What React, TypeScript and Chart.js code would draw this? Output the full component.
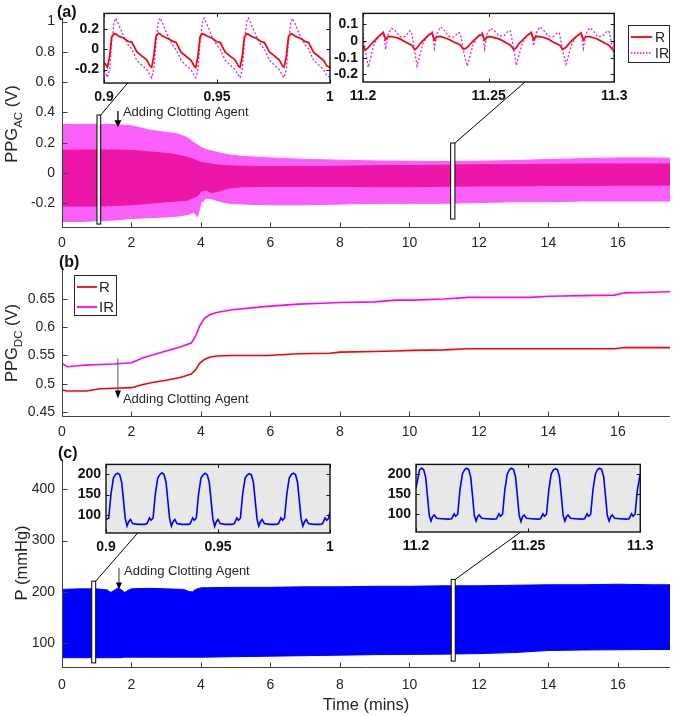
import React, { useEffect, useRef } from "react";
import { Chart, registerables } from "chart.js";

Chart.register(...registerables);

const FONT = "Arial, 'Liberation Sans', Helvetica, sans-serif";
const INK = "#262626";
const RED = "#ff0000";
const MAGENTA = "#ff00ff";
const BLUE = "#0000ff";
const IR_BAND = "rgb(250,95,250)";
const R_BAND = "rgb(238,22,168)";

// ---------------- data ----------------
const SERIES = ["R", "IR"];
const ANNOT = "Adding Clotting Agent";
const X_TICKS = [0, 2, 4, 6, 8, 10, 12, 14, 16];
const A_Y_TICKS = [-0.2, 0, 0.2, 0.4, 0.6, 0.8, 1];
const B_Y_TICKS = [0.45, 0.5, 0.55, 0.6, 0.65];
const C_Y_TICKS = [100, 200, 300, 400];
const A1_X_TICKS = [0.9, 0.95, 1];
const A1_Y_TICKS = [-0.2, 0, 0.2];
const A2_X_TICKS = [11.2, 11.25, 11.3];
const A2_Y_TICKS = [-0.2, -0.1, 0, 0.1];
const C1_X_TICKS = [0.9, 0.95, 1];
const C2_X_TICKS = [11.2, 11.25, 11.3];
const CI_Y_TICKS = [100, 150, 200];

// (a) PPG AC envelopes (time in mins, volts)
const A_T = [0, 0.5, 1, 1.5, 2, 2.5, 3, 3.3, 3.6, 3.8, 3.9, 4.0, 4.15, 4.3, 4.5, 4.8, 5.2, 6, 7, 8, 9, 10, 11, 12, 13, 14, 15, 16, 17, 17.5];
const A_IR_HI = [0.32, 0.322, 0.322, 0.32, 0.312, 0.285, 0.268, 0.26, 0.235, 0.2, 0.185, 0.17, 0.155, 0.145, 0.135, 0.12, 0.11, 0.1, 0.09, 0.085, 0.08, 0.078, 0.076, 0.078, 0.082, 0.09, 0.095, 0.1, 0.1, 0.098];
const A_IR_LO = [-0.32, -0.32, -0.315, -0.31, -0.3, -0.295, -0.29, -0.285, -0.275, -0.26, -0.29, -0.2, -0.165, -0.17, -0.185, -0.2, -0.205, -0.21, -0.21, -0.205, -0.2, -0.2, -0.2, -0.195, -0.19, -0.19, -0.185, -0.185, -0.185, -0.185];
const A_R_HI = [0.15, 0.152, 0.152, 0.152, 0.15, 0.14, 0.13, 0.12, 0.105, 0.09, 0.08, 0.07, 0.065, 0.06, 0.053, 0.048, 0.045, 0.043, 0.043, 0.045, 0.048, 0.05, 0.052, 0.055, 0.055, 0.058, 0.06, 0.06, 0.06, 0.06];
const A_R_LO = [-0.218, -0.218, -0.218, -0.215, -0.21, -0.2, -0.19, -0.185, -0.18, -0.16, -0.15, -0.12, -0.11, -0.13, -0.12, -0.1, -0.09, -0.088, -0.088, -0.088, -0.09, -0.09, -0.088, -0.085, -0.085, -0.083, -0.082, -0.08, -0.08, -0.08];

// (a) inset 1: 0.9 - 1.0 min
const A1_X = [0.9,
  0.9015, 0.9025, 0.9034, 0.9045, 0.9052, 0.9064, 0.9086, 0.9108, 0.9123, 0.9145, 0.9167, 0.9189, 0.9204,
  0.9211, 0.9221, 0.923, 0.9241, 0.9248, 0.926, 0.9282, 0.9304, 0.9319, 0.9341, 0.9363, 0.9385, 0.94,
  0.9406, 0.9416, 0.9425, 0.9436, 0.9443, 0.9455, 0.9477, 0.9499, 0.9514, 0.9536, 0.9558, 0.958, 0.9595,
  0.9602, 0.9612, 0.9621, 0.9632, 0.9639, 0.9651, 0.9673, 0.9695, 0.971, 0.9732, 0.9754, 0.9776, 0.9791,
  0.9797, 0.9807, 0.9816, 0.9827, 0.9834, 0.9846, 0.9868, 0.989, 0.9905, 0.9927, 0.9949, 0.9971, 0.9986,
  1.0];
const A1_R = [-0.13,
  -0.176, -0.07, 0.12, 0.153, 0.147, 0.128, 0.109, 0.075, 0.069, -0.025, -0.066, -0.104, -0.166,
  -0.178, -0.06, 0.125, 0.155, 0.148, 0.125, 0.105, 0.078, 0.065, -0.03, -0.07, -0.11, -0.17,
  -0.18, -0.065, 0.12, 0.152, 0.145, 0.128, 0.11, 0.072, 0.066, -0.028, -0.068, -0.106, -0.168,
  -0.178, -0.07, 0.118, 0.15, 0.145, 0.126, 0.107, 0.074, 0.064, -0.027, -0.066, -0.108, -0.17,
  -0.176, -0.068, 0.12, 0.152, 0.146, 0.126, 0.106, 0.076, 0.066, -0.03, -0.07, -0.11, -0.165,
  -0.18];
const A1_IR = [-0.21,
  -0.276, -0.2, 0.07, 0.27, 0.303, 0.245, 0.13, 0.04, 0.0, -0.11, -0.155, -0.2, -0.255,
  -0.28, -0.19, 0.075, 0.275, 0.305, 0.248, 0.132, 0.038, -0.004, -0.112, -0.158, -0.202, -0.26,
  -0.28, -0.2, 0.07, 0.27, 0.303, 0.244, 0.128, 0.04, 0.0, -0.108, -0.155, -0.2, -0.258,
  -0.282, -0.195, 0.072, 0.272, 0.304, 0.246, 0.13, 0.038, -0.002, -0.11, -0.156, -0.204, -0.262,
  -0.278, -0.2, 0.068, 0.27, 0.302, 0.245, 0.13, 0.04, 0.002, -0.108, -0.154, -0.2, -0.26,
  -0.275];

// (a) inset 2: 11.2 - 11.3 min
const A2_X = [11.2, 11.2008,
  11.2021, 11.2032, 11.2045, 11.2065, 11.2081, 11.209, 11.21, 11.2114, 11.2127, 11.2147, 11.2167, 11.2186, 11.2193, 11.2206,
  11.2215, 11.2226, 11.2239, 11.2259, 11.2275, 11.2284, 11.2294, 11.2308, 11.2321, 11.2341, 11.2361, 11.238, 11.2387, 11.24,
  11.2415, 11.2426, 11.2439, 11.2459, 11.2475, 11.2484, 11.2494, 11.2508, 11.2521, 11.2541, 11.2561, 11.258, 11.2587, 11.26,
  11.261, 11.2621, 11.2634, 11.2654, 11.267, 11.2679, 11.2689, 11.2703, 11.2716, 11.2736, 11.2756, 11.2775, 11.2782, 11.2795,
  11.2808, 11.2819, 11.2832, 11.2852, 11.2868, 11.2877, 11.2887, 11.2901, 11.2914, 11.2934, 11.2954, 11.2973, 11.298, 11.2993,
  11.3];
const A2_R = [-0.03, -0.054,
  -0.04, -0.02, 0.0, 0.03, 0.05, 0.008, 0.026, 0.026, 0.022, 0.012, -0.005, -0.02, -0.025, -0.052,
  -0.042, -0.018, 0.002, 0.032, 0.047, 0.006, 0.025, 0.027, 0.02, 0.01, -0.006, -0.018, -0.024, -0.05,
  -0.04, -0.02, 0.0, 0.028, 0.04, 0.005, 0.024, 0.025, 0.02, 0.012, -0.004, -0.02, -0.026, -0.052,
  -0.04, -0.016, 0.004, 0.033, 0.05, 0.008, 0.027, 0.026, 0.022, 0.012, -0.006, -0.02, -0.025, -0.05,
  -0.038, -0.018, 0.003, 0.03, 0.047, 0.007, 0.025, 0.026, 0.02, 0.01, -0.006, -0.022, -0.028, -0.052,
  -0.056];
const A2_IR = [0.045, -0.05,
  -0.157, -0.09, -0.016, 0.032, 0.05, -0.05, 0.04, 0.075, 0.065, 0.025, 0.025, 0.06, 0.055, -0.06,
  -0.15, -0.085, -0.015, 0.035, 0.055, -0.045, 0.045, 0.083, 0.07, 0.028, 0.022, 0.05, 0.045, -0.06,
  -0.15, -0.088, -0.018, 0.03, 0.05, -0.048, 0.04, 0.075, 0.065, 0.03, 0.03, 0.062, 0.058, -0.05,
  -0.145, -0.085, -0.012, 0.035, 0.052, -0.03, 0.045, 0.083, 0.07, 0.03, 0.025, 0.05, 0.045, -0.06,
  -0.14, -0.08, -0.015, 0.03, 0.05, -0.045, 0.04, 0.078, 0.065, 0.025, 0.03, 0.06, 0.055, -0.04,
  -0.1];

// (b) PPG DC
const DC_T = [0, 0.15, 0.3, 0.7, 1.1, 1.5, 2.0, 2.3, 2.6, 3.0, 3.4, 3.72, 3.85, 3.96, 4.1, 4.25, 4.45, 4.9, 5.9, 6.8, 7.7, 8.0, 9.0, 9.6, 10.1, 11.0, 11.7, 12.5, 13.5, 14.0, 15.0, 15.9, 16.2, 17.0, 17.5];
const DC_IR = [0.536, 0.53, 0.531, 0.533, 0.534, 0.535, 0.537, 0.545, 0.551, 0.558, 0.565, 0.572, 0.585, 0.602, 0.616, 0.622, 0.626, 0.631, 0.637, 0.641, 0.643, 0.644, 0.645, 0.648, 0.648, 0.65, 0.653, 0.653, 0.653, 0.655, 0.656, 0.657, 0.661, 0.662, 0.663];
const DC_R = [0.489, 0.487, 0.487, 0.487, 0.491, 0.492, 0.493, 0.498, 0.502, 0.506, 0.511, 0.517, 0.525, 0.536, 0.543, 0.547, 0.549, 0.55, 0.55, 0.553, 0.554, 0.556, 0.557, 0.558, 0.559, 0.56, 0.562, 0.562, 0.562, 0.562, 0.562, 0.562, 0.564, 0.564, 0.564];

// (c) pressure envelope (mmHg)
const P_T = [0, 0.5, 1.0, 1.3, 1.4, 1.5, 1.6, 1.7, 1.8, 1.9, 2.0, 2.5, 3.0, 3.5, 3.65, 3.75, 3.85, 4.0, 5, 6, 7, 8, 9, 10, 11, 12, 13, 14, 15, 16, 17, 17.5];
const P_HI = [205, 206, 206, 204, 199, 203, 207, 205, 199, 203, 206, 207, 206, 205, 201, 200, 205, 208, 209, 209, 210, 210, 211, 211, 212, 212, 213, 214, 214, 215, 214, 214];
const P_LO = [72, 72, 72, 72, 72, 72, 72, 72, 73, 73, 73, 73, 73, 73, 73, 73, 73, 73, 74, 75, 76, 77, 78, 78.5, 79, 80, 82, 86, 87, 87.5, 88, 88];

// (c) inset 1
const C1_X = [0.9, 0.9012, 0.9022, 0.9033, 0.9043, 0.9052, 0.9061, 0.907, 0.9079, 0.9086, 0.9094, 0.9101, 0.9109, 0.9119, 0.9141, 0.9171,
  0.9183, 0.9194, 0.9201, 0.921, 0.922, 0.9231, 0.9241, 0.925, 0.9259, 0.9268, 0.9277, 0.9284, 0.9292, 0.9299, 0.9307, 0.9317, 0.9339, 0.9369,
  0.9376, 0.9387, 0.9394, 0.9403, 0.9413, 0.9424, 0.9434, 0.9443, 0.9452, 0.9461, 0.947, 0.9477, 0.9485, 0.9492, 0.95, 0.951, 0.9532, 0.9562,
  0.9573, 0.9584, 0.9591, 0.96, 0.961, 0.9621, 0.9631, 0.964, 0.9649, 0.9658, 0.9667, 0.9674, 0.9682, 0.9689, 0.9697, 0.9707, 0.9729, 0.9759,
  0.977, 0.9781, 0.9788, 0.9797, 0.9807, 0.9818, 0.9828, 0.9837, 0.9846, 0.9855, 0.9864, 0.9871, 0.9879, 0.9886, 0.9894, 0.9904, 0.9926, 0.9956,
  0.9967, 0.9978, 0.9985, 0.9994, 1.0];
const C1_P = [89, 92, 150, 190, 199, 202, 199, 180, 130, 91, 73, 83, 89, 79, 77, 77,
  79, 93, 87, 92, 150, 190, 199, 203, 199, 180, 130, 91, 73, 83, 89, 79, 77, 77,
  79, 93, 87, 92, 150, 190, 198, 202, 198, 180, 130, 91, 72, 83, 89, 79, 77, 77,
  79, 93, 87, 92, 150, 190, 198, 201, 198, 180, 130, 91, 73, 83, 89, 79, 77, 77,
  79, 93, 87, 92, 150, 190, 199, 202, 199, 180, 130, 91, 73, 83, 89, 79, 77, 77,
  79, 93, 87, 92, 108];

// (c) inset 2
const C2_X = [11.2, 11.2016, 11.2025, 11.2034, 11.2043, 11.2052, 11.2059, 11.2067, 11.2074, 11.2081, 11.2092, 11.2114, 11.2144,
  11.2159, 11.217, 11.2177, 11.2186, 11.2196, 11.2207, 11.2217, 11.2226, 11.2235, 11.2244, 11.2253, 11.226, 11.2268, 11.2275, 11.2282, 11.2293, 11.2315, 11.2345,
  11.2359, 11.237, 11.2377, 11.2386, 11.2396, 11.2407, 11.2417, 11.2426, 11.2435, 11.2444, 11.2453, 11.246, 11.2468, 11.2475, 11.2482, 11.2493, 11.2515, 11.2545,
  11.2555, 11.2566, 11.2573, 11.2582, 11.2592, 11.2603, 11.2613, 11.2622, 11.2631, 11.264, 11.2649, 11.2656, 11.2664, 11.2671, 11.2678, 11.2689, 11.2711, 11.2741,
  11.2752, 11.2763, 11.277, 11.2779, 11.2789, 11.28, 11.281, 11.2819, 11.2828, 11.2837, 11.2846, 11.2853, 11.2861, 11.2868, 11.2875, 11.2886, 11.2908, 11.2938,
  11.295, 11.2961, 11.2968, 11.2977, 11.2987, 11.3];
const C2_P = [165, 210, 214, 211, 192, 140, 97, 83, 94, 98, 90, 89, 88,
  89, 101, 95, 100, 160, 200, 211, 214, 211, 192, 140, 97, 83, 94, 98, 90, 89, 88,
  89, 101, 95, 100, 160, 200, 211, 214, 211, 192, 140, 97, 82, 94, 98, 90, 89, 88,
  89, 101, 95, 100, 160, 200, 210, 213, 210, 192, 140, 97, 83, 94, 98, 90, 89, 88,
  89, 101, 95, 100, 160, 200, 211, 214, 211, 192, 140, 97, 83, 94, 98, 90, 89, 88,
  89, 101, 95, 100, 160, 200];

// ---------------- layout (page px) ----------------
type Box = { l: number; t: number; r: number; b: number };
const W = 675;
const A_TOP = 0, A_H = 252;
const B_TOP = 252, B_H = 193;
const C_TOP = 445, C_H = 271;
const EXT = { l: 50, r: 18, t: 10, b: 26 };
const IN_A1: Box = { l: 104, t: 10, r: 330, b: 83 };
const IN_A2: Box = { l: 363, t: 10, r: 615, b: 82 };
const IN_C1: Box = { l: 106, t: 461, r: 330, b: 533 };
const IN_C2: Box = { l: 416, t: 461, r: 641, b: 532 };

const pts = (xs: number[], ys: number[]) => xs.map((x, i) => ({ x, y: ys[i] }));

function tickScale(min: number, max: number, ticks: number[], pad: number, size: number, bold: boolean, color: string, fitKey: "width" | "height", fitVal: number) {
  return {
    type: "linear",
    min,
    max,
    grid: { display: false, drawTicks: false },
    border: { display: false },
    afterBuildTicks: (s: any) => {
      s.ticks = ticks.map((v) => ({ value: v }));
    },
    afterFit: (s: any) => {
      s[fitKey] = fitVal;
    },
    ticks: {
      padding: pad,
      color,
      autoSkip: false,
      maxRotation: 0,
      font: { family: FONT, size, weight: bold ? "bold" : "normal" },
      callback: (v: any) => String(v),
    },
  };
}

function drawYTitle(ctx: any, x: number, yc: number, main: string, sub: string, tail: string) {
  ctx.save();
  ctx.translate(x, yc);
  ctx.rotate(-Math.PI / 2);
  ctx.fillStyle = INK;
  ctx.textBaseline = "alphabetic";
  ctx.textAlign = "left";
  const fMain = `16.5px ${FONT}`;
  const fSub = `11.5px ${FONT}`;
  ctx.font = fMain;
  const w1 = ctx.measureText(main).width;
  const w3 = ctx.measureText(tail).width;
  ctx.font = fSub;
  const w2 = sub ? ctx.measureText(sub).width : 0;
  let s = -(w1 + w2 + w3) / 2;
  ctx.font = fMain;
  ctx.fillText(main, s, 0);
  s += w1;
  if (sub) {
    ctx.font = fSub;
    ctx.fillText(sub, s, 4.5);
    s += w2;
  }
  ctx.font = fMain;
  ctx.fillText(tail, s, 0);
  ctx.restore();
}

function mainDecor(spec: any) {
  return {
    id: "mainDecor",
    afterDraw(chart: any) {
      const { ctx, chartArea: a, scales } = chart;
      const sx = scales.x, sy = scales.y;
      const T = spec.top;
      ctx.save();
      // zoom rectangles + connectors
      for (const r of spec.rects || []) {
        const x0 = sx.getPixelForValue(r.x0), x1 = sx.getPixelForValue(r.x1);
        const y0 = sy.getPixelForValue(r.y0), y1 = sy.getPixelForValue(r.y1);
        ctx.fillStyle = "#fff";
        ctx.fillRect(x0, y0, x1 - x0, y1 - y0);
        ctx.strokeStyle = "#000";
        ctx.lineWidth = 1;
        ctx.strokeRect(x0, y0, x1 - x0, y1 - y0);
        ctx.beginPath();
        ctx.moveTo(x1, y0);
        ctx.lineTo(r.to[0], r.to[1] - T);
        ctx.stroke();
      }
      // axes
      const L = Math.round(a.left) + 0.5;
      const B = Math.round(a.bottom) - 0.5;
      ctx.strokeStyle = "#404040";
      ctx.lineWidth = 1;
      ctx.beginPath();
      ctx.moveTo(L, a.top);
      ctx.lineTo(L, B);
      ctx.lineTo(a.right, B);
      for (const t of X_TICKS) {
        const px = Math.round(sx.getPixelForValue(t)) + 0.5;
        ctx.moveTo(px, B);
        ctx.lineTo(px, B - 5);
      }
      for (const t of spec.yTicks) {
        const py = Math.round(sy.getPixelForValue(t)) + 0.5;
        ctx.moveTo(L, py);
        ctx.lineTo(L + 5, py);
      }
      ctx.stroke();
      // y title
      drawYTitle(ctx, spec.title.x, spec.title.y - T, spec.title.main, spec.title.sub, spec.title.tail);
      // panel label
      ctx.fillStyle = "#111";
      ctx.font = `bold 16px ${FONT}`;
      ctx.textAlign = "left";
      ctx.textBaseline = "middle";
      ctx.fillText(spec.panel.text, spec.panel.x, spec.panel.y - T);
      // legend
      if (spec.legend) {
        const Lg = spec.legend;
        const bx = Lg.box;
        ctx.fillStyle = "#fff";
        ctx.fillRect(bx.l, bx.t - T, bx.r - bx.l, bx.b - bx.t);
        ctx.strokeStyle = INK;
        ctx.lineWidth = 1;
        ctx.strokeRect(bx.l + 0.5, bx.t - T + 0.5, bx.r - bx.l - 1, bx.b - bx.t - 1);
        for (const row of Lg.rows) {
          ctx.strokeStyle = row.color;
          ctx.lineWidth = row.lw;
          ctx.setLineDash(row.dash);
          ctx.beginPath();
          ctx.moveTo(Lg.x1, row.y - T);
          ctx.lineTo(Lg.x2, row.y - T);
          ctx.stroke();
          ctx.setLineDash([]);
          ctx.fillStyle = INK;
          ctx.font = `${Lg.size}px ${FONT}`;
          ctx.textAlign = "left";
          ctx.textBaseline = "middle";
          ctx.fillText(row.label, Lg.tx, row.y - T + 1);
        }
      }
      // arrow + annotation
      if (spec.arrow) {
        const ar = spec.arrow;
        const px = sx.getPixelForValue(ar.x);
        const p1 = sy.getPixelForValue(ar.y1);
        const p2 = sy.getPixelForValue(ar.y2);
        ctx.strokeStyle = ar.shaft;
        ctx.lineWidth = ar.lw;
        ctx.beginPath();
        ctx.moveTo(px, p1);
        ctx.lineTo(px, p2 - 5);
        ctx.stroke();
        ctx.fillStyle = "#000";
        ctx.beginPath();
        ctx.moveTo(px - ar.hw, p2 - ar.hh);
        ctx.lineTo(px + ar.hw, p2 - ar.hh);
        ctx.lineTo(px, p2);
        ctx.closePath();
        ctx.fill();
        ctx.fillStyle = INK;
        ctx.font = `13px ${FONT}`;
        ctx.textAlign = "left";
        ctx.textBaseline = "middle";
        ctx.fillText(ANNOT, px + 5, ar.ty - T);
      }
      if (spec.xTitle) {
        ctx.fillStyle = INK;
        ctx.font = `16.5px ${FONT}`;
        ctx.textAlign = "center";
        ctx.textBaseline = "middle";
        ctx.fillText(spec.xTitle.text, (a.left + a.right) / 2, spec.xTitle.y - T);
      }
      ctx.restore();
    },
  };
}

function mainConfig(datasets: any[], yMin: number, yMax: number, yTicks: number[], padTop: number, xAxisH: number, xPad: number, spec: any) {
  return {
    type: "line",
    data: { datasets },
    options: {
      animation: false,
      responsive: false,
      devicePixelRatio: 1,
      layout: { padding: { top: padTop, right: 5, left: 0, bottom: 0 } },
      plugins: { legend: { display: false }, tooltip: { enabled: false } },
      elements: { point: { radius: 0 }, line: { tension: 0 } },
      scales: {
        x: tickScale(0, 17.5, X_TICKS, xPad, 14, false, INK, "height", xAxisH),
        y: tickScale(yMin, yMax, yTicks, 7, 14, false, INK, "width", 62),
      },
    },
    plugins: [mainDecor(spec)],
  };
}

function insetPlugin(bg: string, xTicks: number[], yTicks: number[]) {
  return {
    id: "insetFrame",
    beforeDraw(chart: any) {
      const { ctx, chartArea: a } = chart;
      ctx.save();
      ctx.fillStyle = bg;
      ctx.fillRect(a.left, a.top, a.right - a.left, a.bottom - a.top);
      ctx.restore();
    },
    afterDraw(chart: any) {
      const { ctx, chartArea: a, scales } = chart;
      ctx.save();
      ctx.strokeStyle = "#111";
      ctx.lineWidth = 1.4;
      ctx.strokeRect(a.left, a.top, a.right - a.left, a.bottom - a.top);
      ctx.lineWidth = 1;
      ctx.beginPath();
      for (const t of xTicks) {
        const px = Math.round(scales.x.getPixelForValue(t)) + 0.5;
        ctx.moveTo(px, a.bottom);
        ctx.lineTo(px, a.bottom - 3.5);
        ctx.moveTo(px, a.top);
        ctx.lineTo(px, a.top + 3.5);
      }
      for (const t of yTicks) {
        const py = Math.round(scales.y.getPixelForValue(t)) + 0.5;
        ctx.moveTo(a.left, py);
        ctx.lineTo(a.left + 3.5, py);
        ctx.moveTo(a.right, py);
        ctx.lineTo(a.right - 3.5, py);
      }
      ctx.stroke();
      ctx.restore();
    },
  };
}

function insetConfig(datasets: any[], xMin: number, xMax: number, yMin: number, yMax: number, xTicks: number[], yTicks: number[], bg: string) {
  return {
    type: "line",
    data: { datasets },
    options: {
      animation: false,
      responsive: false,
      devicePixelRatio: 1,
      layout: { padding: { top: EXT.t, right: EXT.r, left: 0, bottom: 0 } },
      plugins: { legend: { display: false }, tooltip: { enabled: false } },
      elements: { point: { radius: 0 }, line: { tension: 0 } },
      scales: {
        x: tickScale(xMin, xMax, xTicks, 5.5, 14, true, "#111", "height", EXT.b),
        y: tickScale(yMin, yMax, yTicks, 5, 14, true, "#111", "width", EXT.l),
      },
    },
    plugins: [insetPlugin(bg, xTicks, yTicks)],
  };
}

const band = (xs: number[], ys: number[], color: string, fill: any) => ({
  data: pts(xs, ys),
  borderColor: color,
  backgroundColor: color,
  borderWidth: 1,
  pointRadius: 0,
  fill,
});
const line = (xs: number[], ys: number[], color: string, width: number, dash: number[] = []) => ({
  data: pts(xs, ys),
  borderColor: color,
  backgroundColor: color,
  borderWidth: width,
  borderDash: dash,
  pointRadius: 0,
  fill: false,
});

function insetStyle(b: Box): any {
  return {
    position: "absolute",
    left: b.l - EXT.l,
    top: b.t - EXT.t,
    width: b.r - b.l + EXT.l + EXT.r,
    height: b.b - b.t + EXT.t + EXT.b,
  };
}

export default function App() {
  const refA = useRef<HTMLCanvasElement>(null);
  const refB = useRef<HTMLCanvasElement>(null);
  const refC = useRef<HTMLCanvasElement>(null);
  const refA1 = useRef<HTMLCanvasElement>(null);
  const refA2 = useRef<HTMLCanvasElement>(null);
  const refC1 = useRef<HTMLCanvasElement>(null);
  const refC2 = useRef<HTMLCanvasElement>(null);

  useEffect(() => {
    const charts: Chart[] = [];
    const mk = (ref: any, cfg: any) => {
      if (ref.current) charts.push(new Chart(ref.current, cfg));
    };

    mk(
      refA,
      mainConfig(
        [band(A_T, A_R_LO, R_BAND, false), band(A_T, A_R_HI, R_BAND, "-1"), band(A_T, A_IR_LO, IR_BAND, false), band(A_T, A_IR_HI, IR_BAND, "-1")],
        -0.363, 1.024, A_Y_TICKS, 18, A_H - 228, 6.6,
        {
          top: A_TOP,
          yTicks: A_Y_TICKS,
          title: { main: "PPG", sub: "AC", tail: " (V)", x: 17, y: 124 },
          panel: { text: "(a)", x: 57, y: 13 },
          legend: {
            box: { l: 628, t: 25, r: 670, b: 63 },
            x1: 631, x2: 652, tx: 655, size: 14,
            rows: [
              { label: SERIES[0], color: RED, dash: [], lw: 1.8, y: 37 },
              { label: SERIES[1], color: MAGENTA, dash: [1.5, 1.5], lw: 1.3, y: 53 },
            ],
          },
          arrow: { x: 1.61, y1: 0.41, y2: 0.303, shaft: "#000", lw: 1.3, hw: 3.5, hh: 7, ty: 112.7 },
          rects: [
            { x0: 1.007, x1: 1.114, y0: 0.383, y1: -0.337, to: [127.7, 83] },
            { x0: 11.186, x1: 11.309, y0: 0.198, y1: -0.304, to: [525, 82] },
          ],
        }
      )
    );

    mk(
      refB,
      mainConfig(
        [line(DC_T, DC_R, RED, 1.6), line(DC_T, DC_IR, MAGENTA, 1.6)],
        0.441, 0.705, B_Y_TICKS, 16, B_TOP + B_H - 417, 6.6,
        {
          top: B_TOP,
          yTicks: B_Y_TICKS,
          title: { main: "PPG", sub: "DC", tail: " (V)", x: 17, y: 343 },
          panel: { text: "(b)", x: 59, y: 262.5 },
          legend: {
            box: { l: 74, t: 275, r: 117, b: 316 },
            x1: 77, x2: 97, tx: 99, size: 15,
            rows: [
              { label: SERIES[0], color: RED, dash: [], lw: 1.8, y: 287 },
              { label: SERIES[1], color: MAGENTA, dash: [], lw: 1.8, y: 307 },
            ],
          },
          arrow: { x: 1.61, y1: 0.545, y2: 0.474, shaft: "#555", lw: 1, hw: 3, hh: 8, ty: 399.3 },
        }
      )
    );

    mk(
      refC,
      mainConfig(
        [band(P_T, P_LO, BLUE, false), band(P_T, P_HI, BLUE, "-1")],
        52, 456, C_Y_TICKS, 13, C_TOP + C_H - 668, 8.3,
        {
          top: C_TOP,
          yTicks: C_Y_TICKS,
          title: { main: "P", sub: "", tail: " (mmHg)", x: 27, y: 563 },
          panel: { text: "(c)", x: 58, y: 453.3 },
          arrow: { x: 1.64, y1: 247, y2: 205, shaft: "#333", lw: 1, hw: 3, hh: 7, ty: 571 },
          rects: [
            { x0: 0.855, x1: 0.97, y0: 221, y1: 62, to: [137.7, 533] },
            { x0: 11.203, x1: 11.318, y0: 224.4, y1: 65.4, to: [520.7, 532] },
          ],
          xTitle: { text: "Time (mins)", y: 705 },
        }
      )
    );

    mk(refA1, insetConfig([line(A1_X, A1_R, RED, 1.7), line(A1_X, A1_IR, MAGENTA, 1.2, [2, 2])], 0.9, 1.0, -0.332, 0.35, A1_X_TICKS, A1_Y_TICKS, "#ffffff"));
    mk(refA2, insetConfig([line(A2_X, A2_R, RED, 1.7), line(A2_X, A2_IR, MAGENTA, 1.2, [2, 2])], 11.2, 11.3, -0.245, 0.164, A2_X_TICKS, A2_Y_TICKS, "#ffffff"));
    mk(refC1, insetConfig([line(C1_X, C1_P, BLUE, 1.6)], 0.9, 1.0, 56, 223.5, C1_X_TICKS, CI_Y_TICKS, "#e8e8e8"));
    mk(refC2, insetConfig([line(C2_X, C2_P, BLUE, 1.6)], 11.2, 11.3, 56, 223.5, C2_X_TICKS, CI_Y_TICKS, "#e8e8e8"));

    return () => charts.forEach((c) => c.destroy());
  }, []);

  const sA = insetStyle(IN_A1), sA2 = insetStyle(IN_A2), sC1 = insetStyle(IN_C1), sC2 = insetStyle(IN_C2);

  return (
    <div style={{ position: "absolute", left: 0, top: 0, width: W, height: 716, background: "#fff", overflow: "hidden" }}>
      <canvas ref={refA} width={W} height={A_H} style={{ position: "absolute", left: 0, top: A_TOP, width: W, height: A_H }} />
      <canvas ref={refB} width={W} height={B_H} style={{ position: "absolute", left: 0, top: B_TOP, width: W, height: B_H }} />
      <canvas ref={refC} width={W} height={C_H} style={{ position: "absolute", left: 0, top: C_TOP, width: W, height: C_H }} />
      <canvas ref={refA1} width={sA.width} height={sA.height} style={sA} />
      <canvas ref={refA2} width={sA2.width} height={sA2.height} style={sA2} />
      <canvas ref={refC1} width={sC1.width} height={sC1.height} style={sC1} />
      <canvas ref={refC2} width={sC2.width} height={sC2.height} style={sC2} />
    </div>
  );
}
